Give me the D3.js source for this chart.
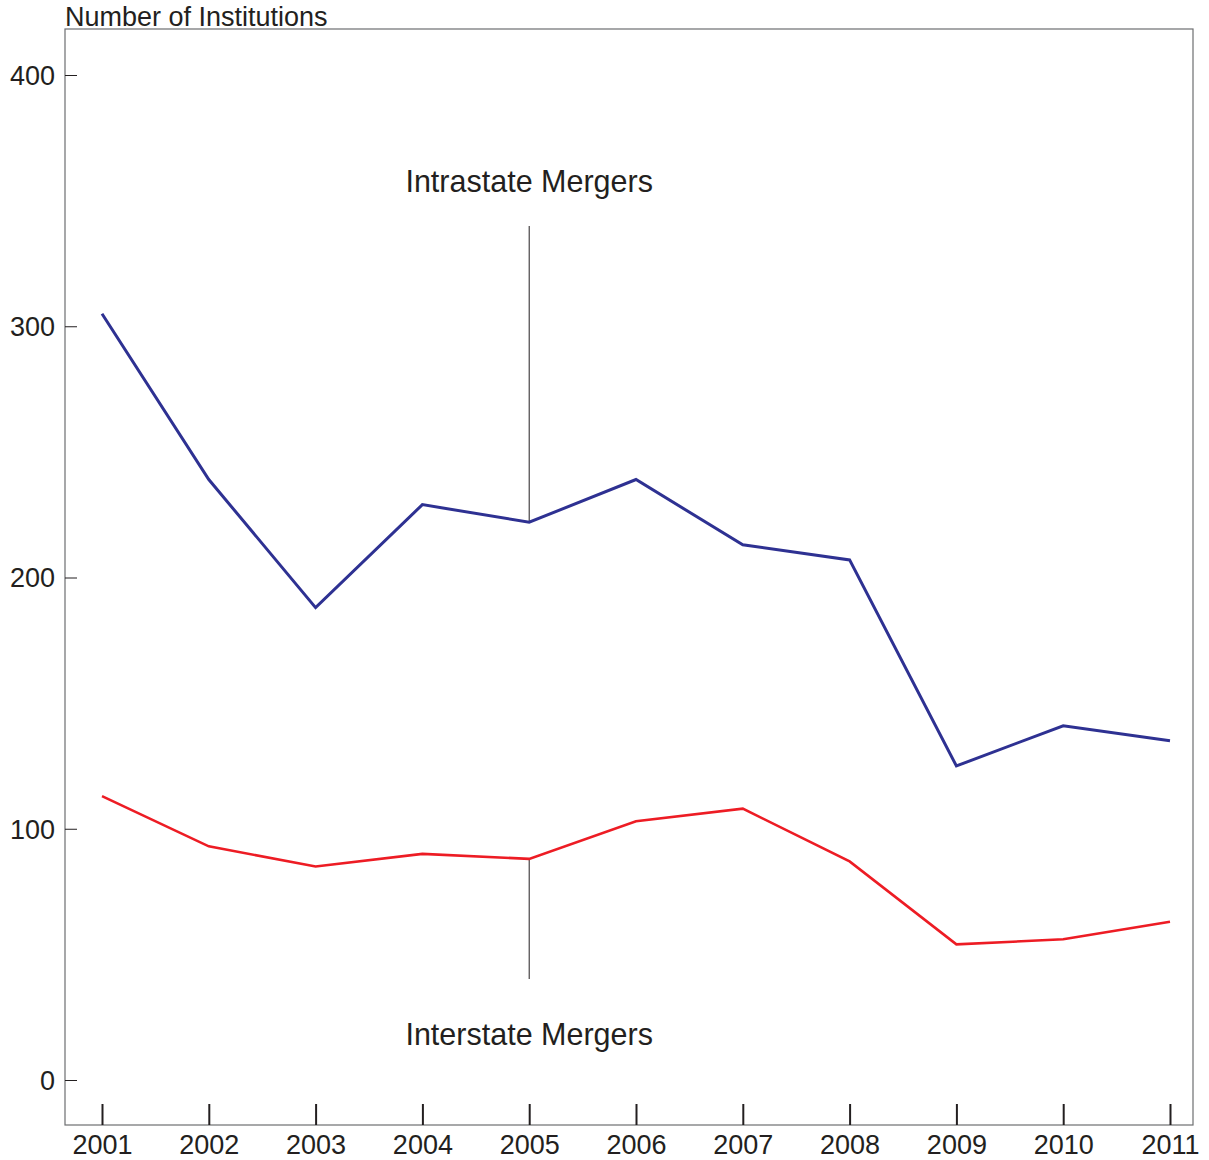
<!DOCTYPE html>
<html>
<head>
<meta charset="utf-8">
<script src="https://cdn.jsdelivr.net/npm/d3@7"></script>
<style>
  body { margin: 0; background: #fff; }
  text { font-family: "Liberation Sans", Arial, sans-serif; fill: #231f20; }
</style>
</head>
<body>
<div id="chart"></div>
<script>
const width = 1209;
const height = 1160;

// data
const years = [2001, 2002, 2003, 2004, 2005, 2006, 2007, 2008, 2009, 2010, 2011];
const intrastate = [305, 239, 188, 229, 222, 239, 213, 207, 125, 141, 135];
const interstate = [113, 93, 85, 90, 88, 103, 108, 87, 54, 56, 63];
const yTicks = [0, 100, 200, 300, 400];

const frame = { left: 65, right: 1193, top: 29, bottom: 1125 };

const svg = d3.select('#chart').append('svg')
  .attr('width', width)
  .attr('height', height);

const x = d3.scaleLinear().domain([2001, 2011]).range([102, 1170]);
const y = d3.scaleLinear().domain([0, 400]).range([1080, 75]);

// frame
svg.append('rect')
  .attr('x', frame.left).attr('y', frame.top)
  .attr('width', frame.right - frame.left)
  .attr('height', frame.bottom - frame.top)
  .attr('fill', 'none')
  .attr('stroke', '#6d6e71')
  .attr('stroke-width', 1.2);

// y axis, ticks pointing inward
const yAxis = svg.append('g')
  .attr('transform', `translate(${frame.left},0)`)
  .call(d3.axisRight(y).tickValues(yTicks).tickSize(12).tickFormat(d3.format('d')));
yAxis.select('.domain').remove();
yAxis.selectAll('line').attr('stroke', '#231f20').attr('stroke-width', 1);
yAxis.selectAll('text')
  .attr('x', -10).attr('dy', '0.35em')
  .attr('text-anchor', 'end')
  .style('font-size', '27px');

// x axis, ticks pointing up from the bottom edge
const xAxis = svg.append('g')
  .attr('transform', `translate(0,${frame.bottom})`)
  .call(d3.axisTop(x).tickValues(years).tickSize(21).tickFormat(d3.format('d')));
xAxis.select('.domain').remove();
xAxis.selectAll('line').attr('stroke', '#231f20').attr('stroke-width', 2);
xAxis.selectAll('text')
  .attr('y', 29).attr('dy', 0)
  .style('font-size', '27px');

// axis title
svg.append('text')
  .attr('x', frame.left).attr('y', 26)
  .style('font-size', '27px')
  .text('Number of Institutions');

// annotation lines at 2005
const ann = 2005;
const ai = years.indexOf(ann);
svg.append('line')
  .attr('x1', x(ann)).attr('x2', x(ann))
  .attr('y1', 226).attr('y2', y(intrastate[ai]))
  .attr('stroke', '#231f20').attr('stroke-width', 1);
svg.append('line')
  .attr('x1', x(ann)).attr('x2', x(ann))
  .attr('y1', y(interstate[ai])).attr('y2', 979)
  .attr('stroke', '#231f20').attr('stroke-width', 1);

svg.append('text')
  .attr('x', x(ann)).attr('y', 192)
  .attr('text-anchor', 'middle')
  .style('font-size', '30.5px')
  .text('Intrastate Mergers');
svg.append('text')
  .attr('x', x(ann)).attr('y', 1045)
  .attr('text-anchor', 'middle')
  .style('font-size', '30.5px')
  .text('Interstate Mergers');

// lines
const line = d3.line()
  .x((d, i) => x(years[i]))
  .y(d => y(d));

svg.append('path')
  .datum(intrastate)
  .attr('d', line)
  .attr('fill', 'none')
  .attr('stroke', '#2e3192')
  .attr('stroke-width', 3);

svg.append('path')
  .datum(interstate)
  .attr('d', line)
  .attr('fill', 'none')
  .attr('stroke', '#ed1c24')
  .attr('stroke-width', 2.6);
</script>
</body>
</html>
